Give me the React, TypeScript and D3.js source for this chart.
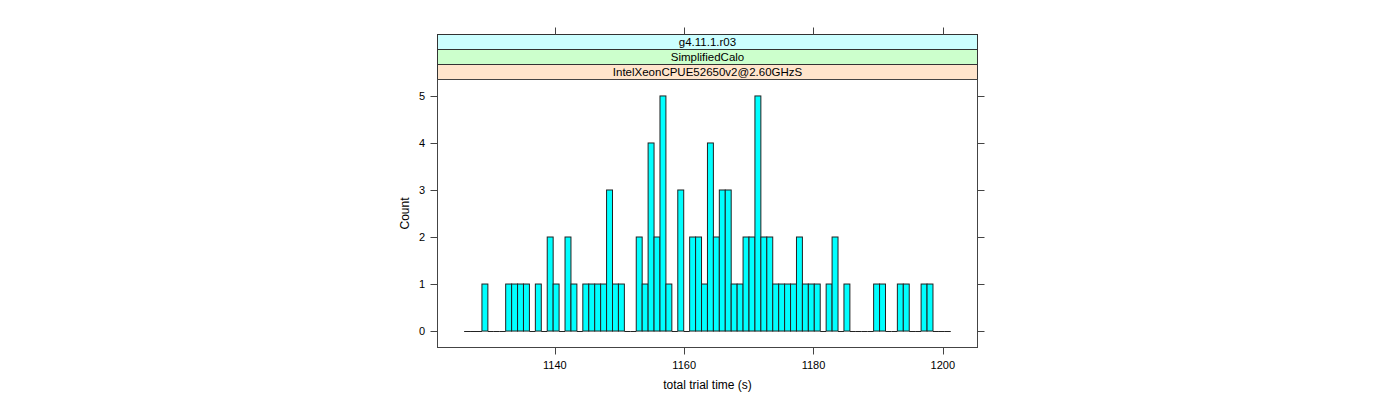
import React from "react";
import * as d3 from "d3";

const stripLabels = ["IntelXeonCPUE52650v2@2.60GHzS", "SimplifiedCalo", "g4.11.1.r03"];
const stripColors = ["#ffe5cc", "#ccffcc", "#ccffff"];
const breakStart = 1125.96;
const binWidth = 0.918;
const counts = [
  0, 0, 0, 1, 0, 0, 0, 1, 1, 1, 1, 0, 1, 0, 2, 1, 0, 2, 1, 0,
  1, 1, 1, 1, 3, 1, 1, 0, 0, 2, 1, 4, 2, 5, 1, 0, 3, 0, 2, 2,
  1, 4, 2, 3, 3, 1, 1, 2, 2, 5, 2, 2, 1, 1, 1, 1, 2, 1, 1, 1,
  0, 1, 2, 0, 1, 0, 0, 0, 0, 1, 1, 0, 0, 1, 1, 0, 0, 1, 1, 0,
  0, 0,
];
const xTicks = [1140, 1160, 1180, 1200];
const yTicks = [0, 1, 2, 3, 4, 5];
const xDomain = [1121.84, 1205.37];
const yDomain = [-0.35, 5.35];

export default function App() {
  const left = 437.5, right = 977.5, top = 79.5, bottom = 347.5;
  const stripH = 15;
  const x = d3.scaleLinear().domain(xDomain).range([left, right]);
  const y = d3.scaleLinear().domain(yDomain).range([bottom, top]);
  const font = "Liberation Sans, Arial, Helvetica, sans-serif";
  const bins = counts.map((c, i) => ({
    x0: breakStart + i * binWidth,
    x1: breakStart + (i + 1) * binWidth,
    c,
  }));
  const stripTop = top - stripH * stripLabels.length;
  const y0 = Math.round(y(0)) + 0.5;
  return (
    <svg width={1400} height={400} style={{ position: "absolute", left: 0, top: 0 }} fontFamily={font}>
      <rect x={0} y={0} width={1400} height={400} fill="white" />
      {/* strips */}
      {stripLabels.map((lab, i) => {
        const yy = top - stripH * (i + 1);
        return (
          <g key={lab}>
            <rect x={left} y={yy} width={right - left} height={stripH} fill={stripColors[i]} stroke="#333" strokeWidth={1} />
            <text x={(left + right) / 2} y={yy + stripH / 2 + 4} textAnchor="middle" fontSize={11.5} fill="#000">{lab}</text>
          </g>
        );
      })}
      {/* bars (zero-count bins draw as a flat line on the baseline) */}
      {bins.map((b, i) =>
        b.c > 0 ? (
          <rect key={i} x={x(b.x0)} y={y(b.c)} width={x(b.x1) - x(b.x0)} height={y(0) - y(b.c)}
            fill="#00ffff" stroke="#222" strokeWidth={1} />
        ) : (
          <line key={i} x1={x(b.x0)} x2={x(b.x1)} y1={y0} y2={y0} stroke="#222" strokeWidth={1} />
        )
      )}
      {/* panel border */}
      <rect x={left} y={top} width={right - left} height={bottom - top} fill="none" stroke="#444" strokeWidth={1} />
      {/* x ticks bottom and top */}
      {xTicks.map((t) => (
        <g key={t}>
          <line x1={Math.round(x(t)) + 0.5} x2={Math.round(x(t)) + 0.5} y1={bottom} y2={bottom + 7} stroke="#444" />
          <line x1={Math.round(x(t)) + 0.5} x2={Math.round(x(t)) + 0.5} y1={stripTop} y2={stripTop - 7} stroke="#444" />
          <text x={x(t)} y={bottom + 21} textAnchor="middle" fontSize={11} fill="#000">{t}</text>
        </g>
      ))}
      {/* y ticks left and right */}
      {yTicks.map((t) => (
        <g key={t}>
          <line x1={left} x2={left - 7} y1={Math.round(y(t)) + 0.5} y2={Math.round(y(t)) + 0.5} stroke="#444" />
          <line x1={right} x2={right + 7} y1={Math.round(y(t)) + 0.5} y2={Math.round(y(t)) + 0.5} stroke="#444" />
          <text x={425} y={y(t) + 4} textAnchor="end" fontSize={11} fill="#000">{t}</text>
        </g>
      ))}
      <text x={(left + right) / 2} y={389} textAnchor="middle" fontSize={12} fill="#000">total trial time (s)</text>
      <text transform={`translate(409,${(top + bottom) / 2}) rotate(-90)`} textAnchor="middle" fontSize={12} fill="#000">Count</text>
    </svg>
  );
}
